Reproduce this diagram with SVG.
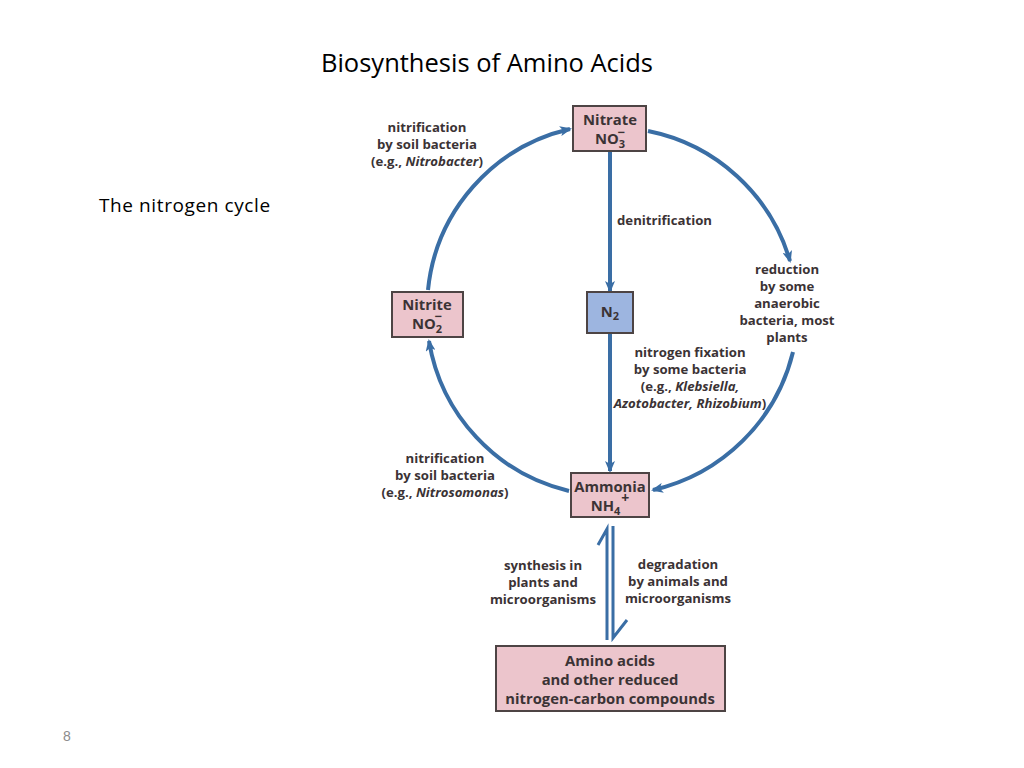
<svg xmlns="http://www.w3.org/2000/svg" width="1024" height="768" viewBox="0 0 1024 768">
<style>
.box{fill:#ecc5cc;stroke:#4d4444;stroke-width:2}
.boxb{fill:#9db5e0;stroke:#4d4444;stroke-width:2}
.bt{font-family:"Open Sans","Liberation Sans",sans-serif;font-weight:700;font-size:14.8px;fill:#3b3335;text-anchor:middle}
.lb{font-family:"Open Sans","Liberation Sans",sans-serif;font-weight:700;font-size:13.2px;fill:#3b3335;text-anchor:middle}
.con{fill:none;stroke:#3a6ea5;stroke-width:4}
.thin{fill:none;stroke:#3a6ea5;stroke-width:3}
</style>
<defs>
<marker id="ah" viewBox="0 0 12 10" refX="10" refY="5" markerWidth="12" markerHeight="10" markerUnits="userSpaceOnUse" orient="auto">
<path d="M0,0 L12,5 L0,10 L3,5 z" fill="#3a6ea5"/>
</marker>
</defs>
<rect width="1024" height="768" fill="#ffffff"/>
<text x="487" y="72" font-family="Open Sans, Liberation Sans, sans-serif" font-size="25.5" fill="#000" text-anchor="middle">Biosynthesis of Amino Acids</text>
<text x="99" y="212" font-family="Open Sans, Liberation Sans, sans-serif" font-size="19" letter-spacing="0.6" fill="#000">The nitrogen cycle</text>
<text x="67" y="741" font-family="Liberation Sans, sans-serif" font-size="14" fill="#8c8c8c" text-anchor="middle">8</text>

<g id="connectors">
<path class="con" d="M428,290 A184,184 0 0 1 570,129" marker-end="url(#ah)"/>
<path class="con" d="M648,131 A186,186 0 0 1 790,261" marker-end="url(#ah)"/>
<path class="con" d="M793,352 A187,187 0 0 1 653,490" marker-end="url(#ah)"/>
<path class="con" d="M569,491 A185,185 0 0 1 429,341" marker-end="url(#ah)"/>
<path class="con" d="M610,151 L610,291" marker-end="url(#ah)"/>
<path class="con" d="M610,334 L610,471" marker-end="url(#ah)"/>
<path class="thin" d="M607,640 L607,529 L598,545"/>
<path class="thin" d="M613,526 L613,638 L627,620"/>
</g>

<g id="nitrate">
<rect class="box" x="573" y="106" width="73" height="45"/>
<text class="bt" x="610" y="125">Nitrate</text>
<text class="bt" x="610" y="144">NO<tspan font-size="11" dy="4">3</tspan><tspan font-size="13" dx="-7.5" dy="-11.5">−</tspan></text>
</g>
<g id="nitrite">
<rect class="box" x="392" y="292" width="71" height="45"/>
<text class="bt" x="427" y="310">Nitrite</text>
<text class="bt" x="427" y="329">NO<tspan font-size="11" dy="4">2</tspan><tspan font-size="13" dx="-7.5" dy="-12">−</tspan></text>
</g>
<g id="n2">
<rect class="boxb" x="587" y="292" width="46" height="41"/>
<text class="bt" x="610" y="317">N<tspan font-size="11" dy="3">2</tspan></text>
</g>
<g id="ammonia">
<rect class="box" x="571" y="473" width="78" height="44"/>
<text class="bt" x="610" y="492">Ammonia</text>
<text class="bt" x="610" y="511">NH<tspan font-size="11" dy="4">4</tspan><tspan font-size="14" dx="1" dy="-12">+</tspan></text>
</g>
<g id="amino">
<rect class="box" x="496" y="646" width="229" height="65"/>
<text class="bt" x="610" y="666" font-size="16.3">Amino acids</text>
<text class="bt" x="610" y="685" font-size="16.3">and other reduced</text>
<text class="bt" x="610" y="704" font-size="16.3">nitrogen-carbon compounds</text>
</g>

<g id="labels">
<text class="lb" x="427" y="132">nitrification</text>
<text class="lb" x="427" y="149">by soil bacteria</text>
<text class="lb" x="427" y="166">(e.g., <tspan font-style="italic">Nitrobacter</tspan>)</text>
<text class="lb" x="617" y="225" style="text-anchor:start">denitrification</text>
<text class="lb" x="787" y="274">reduction</text>
<text class="lb" x="787" y="291">by some</text>
<text class="lb" x="787" y="308">anaerobic</text>
<text class="lb" x="787" y="325">bacteria, most</text>
<text class="lb" x="787" y="342">plants</text>
<text class="lb" x="690" y="357">nitrogen fixation</text>
<text class="lb" x="690" y="374">by some bacteria</text>
<text class="lb" x="690" y="391">(e.g., <tspan font-style="italic">Klebsiella,</tspan></text>
<text class="lb" x="690" y="408"><tspan font-style="italic">Azotobacter, Rhizobium</tspan>)</text>
<text class="lb" x="445" y="463">nitrification</text>
<text class="lb" x="445" y="480">by soil bacteria</text>
<text class="lb" x="445" y="497">(e.g., <tspan font-style="italic">Nitrosomonas</tspan>)</text>
<text class="lb" x="543" y="570">synthesis in</text>
<text class="lb" x="543" y="587">plants and</text>
<text class="lb" x="543" y="604">microorganisms</text>
<text class="lb" x="678" y="569">degradation</text>
<text class="lb" x="678" y="586">by animals and</text>
<text class="lb" x="678" y="603">microorganisms</text>
</g>
</svg>
